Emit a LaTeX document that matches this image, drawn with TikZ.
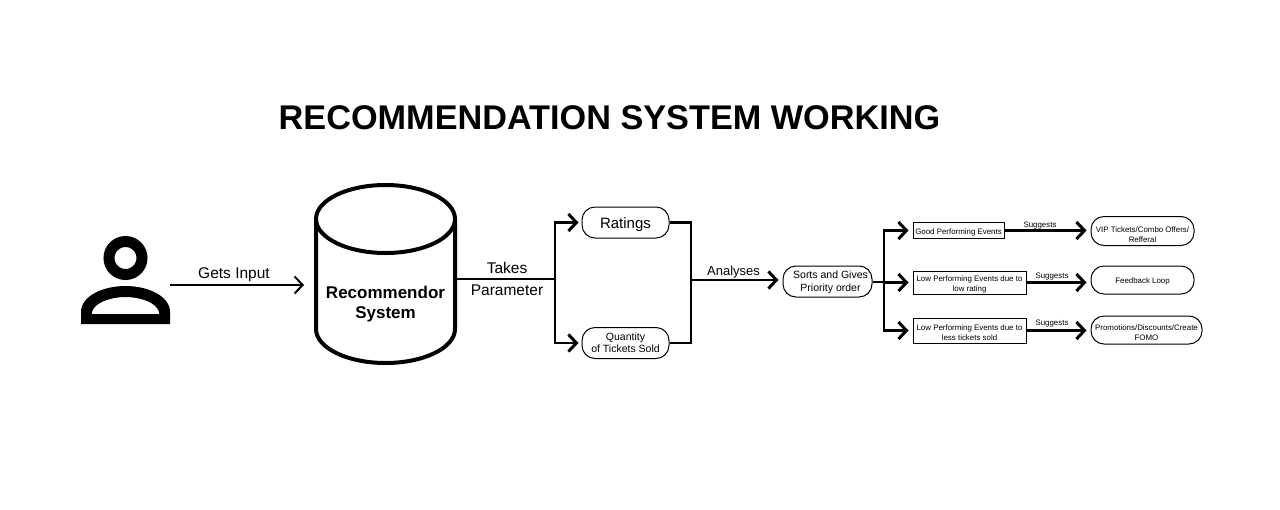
\documentclass[tikz,border=0pt]{standalone}
\usepackage{fontspec}
\setmainfont{Liberation Sans}
\usetikzlibrary{arrows.meta}

% stacked lines of text, moved up or down inside their node
\newcommand{\lines}[2]{\raisebox{#1}[0pt][0pt]{\begin{tabular}{@{}c@{}}#2\end{tabular}}}

\tikzset{
  flow/.style={line width=2.6pt, -{Straight Barb[length=8pt,width=17pt,line width=3pt]}},
  thinflow/.style={line width=2pt, -{Straight Barb[length=8pt,width=17pt,line width=2pt]}},
  trunk/.style={line width=2.6pt},
  pill/.style={draw=black, line width=1pt, rounded corners=13pt, inner sep=0pt},
  eventbox/.style={draw=black, line width=1pt, inner sep=0pt},
  tiny text/.style={font=\fontsize{7.9}{10}\selectfont},
  big text/.style={font=\fontsize{15.5}{22}\selectfont},
}

\begin{document}
\begin{tikzpicture}[x=1pt, y=-1pt]
  \useasboundingbox (0,0) rectangle (1280,509);

  \node (title) at (609.5,118) {\fontsize{34.25}{40}\selectfont\bfseries RECOMMENDATION SYSTEM WORKING};

  % user icon
  \draw[line width=11pt] (125.5,258) circle (16.5);
  \fill[even odd rule] (81,324) -- (81,312) .. controls (81,296) and (103,286) .. (125.5,286)
    .. controls (148,286) and (170,296) .. (170,312) -- (170,324) -- cycle
    (92,314) -- (92,312) .. controls (94,303) and (110,297) .. (125.5,297)
    .. controls (141,297) and (157,303) .. (159,312) -- (159,314) -- cycle;
  \coordinate (user) at (170,285);

  % database
  \draw[line width=4pt] (385.5,219) ellipse (69.5 and 34);
  \draw[line width=4pt] (316,219) -- (316,329) arc[start angle=180, end angle=0, x radius=69.5, y radius=34] -- (455,219);
  \node[minimum width=143, minimum height=182, inner sep=0pt, font=\fontsize{17}{20}\selectfont\bfseries] (recommendor) at (385.5,274)
    {\lines{-34.5pt}{Recommendor\\System}};

  \draw[thinflow] (user) -- (304,285);
  \node[big text] (getsinput) at (234,274.5) {Gets Input};

  % parameters
  \node[pill, minimum width=87, minimum height=31, font=\fontsize{15}{20}\selectfont] (ratings) at (625.5,222.5) {\lines{-6pt}{Ratings}};
  \node[pill, minimum width=87, minimum height=31, font=\fontsize{10.5}{12}\selectfont] (quantity) at (625.5,343) {\lines{-3.85pt}{Quantity\\of Tickets Sold}};
  \coordinate (takes) at (555,279);
  \coordinate (merge) at (691,280);

  \draw[trunk] (recommendor.east |- takes) -- (takes);
  \draw[flow, shorten >=3pt] (takes) |- (ratings.west);
  \draw[flow, shorten >=3pt] (takes) |- (quantity.west);
  \node[big text] (takeslabel) at (507,268) {Takes};
  \node[big text] (paramlabel) at (507,290) {Parameter};

  \draw[trunk] (ratings.east) -| (merge) |- (quantity.east);

  \node[pill, minimum width=89, minimum height=31, font=\fontsize{10.5}{12.5}\selectfont] (sorts) at (827.5,281.5)
    {\lines{-3.75pt}{\hspace*{6pt}Sorts and Gives\\\hspace*{6pt}Priority order}};
  \draw[flow, shorten >=4pt] (merge) -- (sorts.west |- merge);
  \node[font=\fontsize{13}{16}\selectfont] (analyses) at (733.5,272.5) {Analyses};

  % events and what they lead to
  \coordinate (split) at (884,282);
  \draw[trunk] (sorts.east |- split) -- (split);

  \foreach \name/\cx/\cy/\w/\h/\lift/\txt in {
      good/958.5/230.5/91/16/-4.45/{Good Performing Events},
      lowrate/969.5/282.5/113/23/-4.45/{Low Performing Events due to\\low rating},
      lowsold/969.5/330.5/113/25/-5.45/{Low Performing Events due to\\less tickets sold}}
    \node[eventbox, tiny text, minimum width=\w, minimum height=\h] (\name) at (\cx,\cy) {\lines{\lift pt}{\txt}};

  \node[pill, tiny text, minimum width=103, minimum height=29] (vip) at (1142.5,231) {\lines{-6pt}{VIP Tickets/Combo Offers/\\Refferal}};
  \node[pill, tiny text, minimum width=103, minimum height=28] (feedback) at (1142.5,280) {\lines{-3.95pt}{Feedback Loop}};
  \node[pill, tiny text, minimum width=111, minimum height=28] (promo) at (1146.5,330) {\lines{-5.95pt}{Promotions/Discounts/Create\\FOMO}};

  \foreach \name/\target/\lx/\ly in {good/vip/1040/226, lowrate/feedback/1052/277, lowsold/promo/1052/324} {
    \draw[flow, shorten >=4pt] (split) |- (\name.west);
    \draw[flow, shorten >=4pt] (\name.east) -- (\target.west |- \name.east);
    \node[tiny text] (\name label) at (\lx,\ly) {Suggests};
  }
\end{tikzpicture}
\end{document}
